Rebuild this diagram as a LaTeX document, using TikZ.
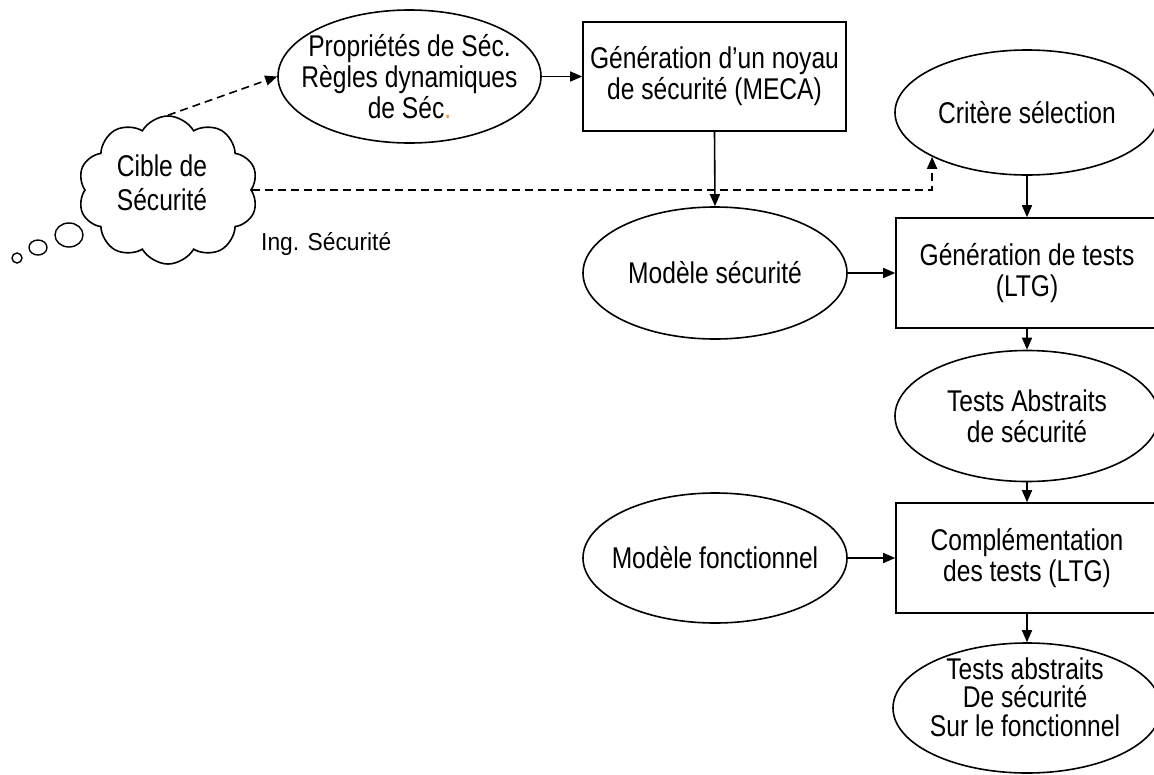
\documentclass[tikz,border=0pt]{standalone}
\usepackage{fontspec}
\setmainfont{Liberation Sans}[FakeStretch=0.82]
\newfontfamily\ingfont{Liberation Sans}[FakeStretch=0.93]
\usetikzlibrary{shapes.geometric,shapes.symbols,arrows.meta}
\definecolor{dotorange}{RGB}{240,150,40}
\begin{document}
\begin{tikzpicture}[x=1pt,y=-1pt,
  every node/.style={font=\fontsize{30}{31}\selectfont},
  ln/.style={line width=1.6pt},
  arr/.style={ln,-{Triangle[length=12pt,width=10pt]}},
  darr/.style={arr,dash pattern=on 8pt off 5pt},
  box/.style={draw,ln,rectangle,minimum width=262pt,minimum height=110pt,inner sep=0pt,align=center},
  ell/.style={draw,ln,ellipse,minimum width=264pt,minimum height=132pt,inner xsep=-40pt,inner ysep=0pt,align=center},
  bubble/.style={draw,line width=1.4pt,ellipse,inner sep=0pt},
  txt/.style={align=center,inner sep=0pt}]
\useasboundingbox (0,0) rectangle (1154,774);

% nodes
\node[ell,minimum width=263pt,minimum height=133pt] (prop) at (409.5,76.5) {Propriétés de Séc.\\Règles dynamiques\\de Séc\textcolor{dotorange}{.}};
\node[box,minimum width=263pt,minimum height=109pt] (meca) at (714.5,76.5) {Génération d’un noyau\\de sécurité (MECA)};
\node[ell,minimum height=125pt] (crit) at (1027,112.5) {Critère sélection};
\node[ell] (msec) at (715,273) {Modèle sécurité};
\node[box] (gen) at (1027,273) {Génération de tests\\(LTG)};
\node[ell,minimum height=131pt] (tabs) at (1027,416) {Tests Abstraits\\de sécurité};
\node[ell,minimum height=130pt] (mfon) at (715,558) {Modèle fonctionnel};
\node[box] (comp) at (1027,558) {Complémentation\\des tests (LTG)};
\node[ell,minimum width=268pt,minimum height=130pt] (fin) at (1027,708) {};
\node[txt,font=\fontsize{30}{28.5}\selectfont] (fintxt) at (1025,697) {Tests abstraits\\De sécurité\\Sur le fonctionnel};

% cloud and thought bubbles
\node[cloud,draw,ln,cloud puffs=10,cloud puff arc=120,aspect=1.2,minimum width=180pt,minimum height=148pt,inner sep=0pt] (cloud) at (168,190) {};
\node[txt,font=\fontsize{30}{34}\selectfont] (ctxt) at (162,183) {Cible de\\Sécurité};
\node[bubble,minimum width=28pt,minimum height=24pt] (b1) at (69,235) {};
\node[bubble,minimum width=18pt,minimum height=15pt] (b2) at (38,247.5) {};
\node[bubble,minimum width=10pt,minimum height=10pt] (b3) at (17,258) {};

\node[txt,anchor=base west,font=\ingfont\fontsize{24.5}{26}\selectfont] (ing) at (261,250) {Ing. Sécurité};

% connectors
\draw[darr] (cloud.north) -- (prop.west);
\draw[arr] (prop.east) -- (meca.west);
\draw[arr] (meca.south) -- (msec.north);
\draw[darr] (cloud.east) -| (crit.205.5);
\draw[arr] (crit.south) -- (gen.north);
\draw[arr] (msec.east) -- (gen.west);
\draw[arr] (gen.south) -- (tabs.north);
\draw[arr] (tabs.south) -- (comp.north);
\draw[arr] (mfon.east) -- (comp.west);
\draw[arr] (comp.south) -- (fin.north);
\end{tikzpicture}
\end{document}
